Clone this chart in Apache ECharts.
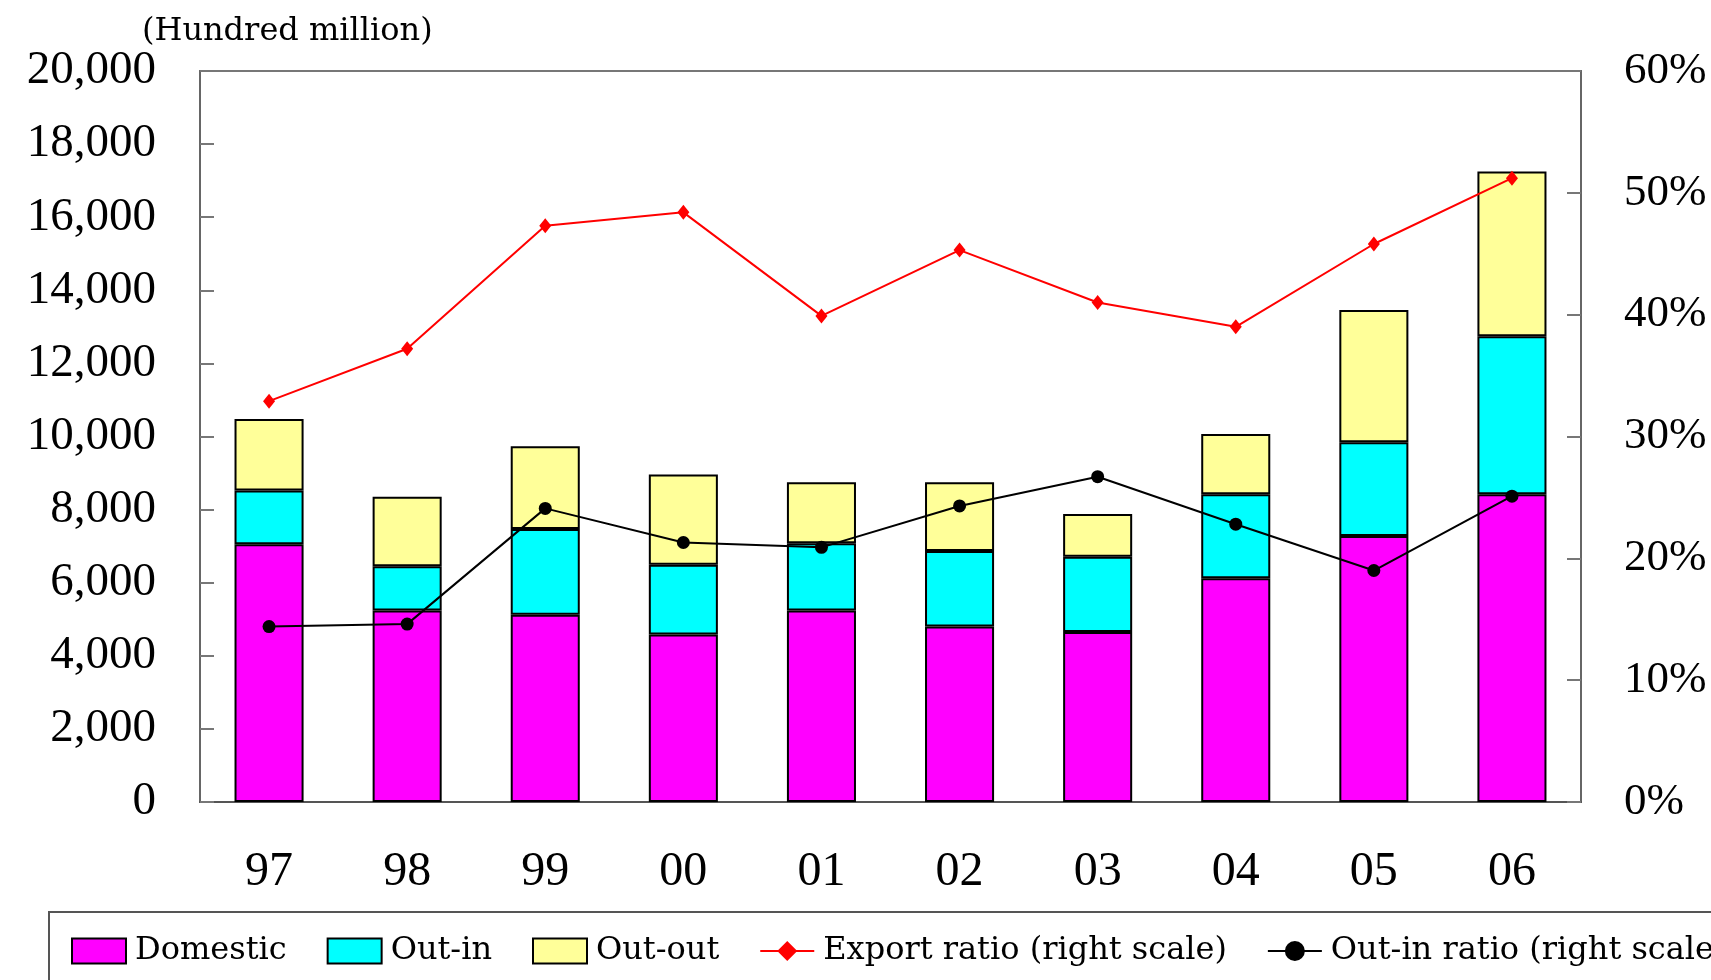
<!DOCTYPE html>
<html>
<head>
	<meta charset="utf-8"/>
	<title>Domestic / Out-in / Out-out</title>
	<style>
		* { margin: 0; padding: 0; }
		body { background: #fff; }
		#myChart { width: 1711px; height: 980px; }
	</style>
</head>
<body>
	<div id="myChart"></div>
	<script src="https://cdn.jsdelivr.net/npm/echarts@6/dist/echarts.min.js"></script>
	<script>
		// data
		var years = ['97', '98', '99', '00', '01', '02', '03', '04', '05', '06'];
		var domestic = [7050, 5240, 5120, 4580, 5240, 4800, 4650, 6120, 7280, 8420];
		var outIn = [1470, 1210, 2350, 1910, 1840, 2070, 2060, 2300, 2560, 4320];
		var outOut = [1960, 1900, 2260, 2470, 1670, 1880, 1170, 1650, 3620, 4510];
		var exportRatio = [32.9, 37.2, 47.3, 48.4, 39.9, 45.3, 41.0, 39.0, 45.8, 51.2];
		var outInRatio = [14.4, 14.6, 24.1, 21.3, 20.9, 24.3, 26.7, 22.8, 19.0, 25.1];

		var font = 'Liberation Serif';
		var wideFont = 'DejaVu Serif';
		var myChart = echarts.init(document.getElementById('myChart'));

		function barSeries(name, data, color) {
			return {
				name: name,
				type: 'bar',
				stack: 'total',
				barWidth: '50%',
				data: data,
				itemStyle: { color: color, borderColor: '#000', borderWidth: 2 },
				z: 2
			};
		}

		var option = {
			animation: false,
			backgroundColor: '#fff',
			textStyle: { fontFamily: font, color: '#000' },
			title: {
				text: '(Hundred million)',
				left: 137,
				top: 11,
				textStyle: { fontFamily: wideFont, fontSize: 32, fontWeight: 'normal', color: '#000' }
			},
			grid: {
				left: 200,
				right: 130,
				top: 71,
				bottom: 178,
				show: true,
				borderColor: '#777',
				borderWidth: 2
			},
			legend: {
				left: 66,
				top: 930,
				width: 3000,
				itemWidth: 54,
				itemHeight: 25,
				itemGap: 40,
				data: [
					{ name: 'Domestic', icon: 'rect' },
					{ name: 'Out-in', icon: 'rect' },
					{ name: 'Out-out', icon: 'rect' },
					'Export ratio (right scale)',
					'Out-in ratio (right scale)'
				],
				textStyle: { fontFamily: wideFont, fontSize: 32, color: '#000', padding: [0, 0, 0, 4] }
			},
			graphic: [{
				type: 'rect',
				shape: { x: 49, y: 912, width: 1800, height: 200 },
				style: { fill: 'none', stroke: '#555', lineWidth: 2 },
				silent: true
			}],
			xAxis: {
				type: 'category',
				data: years,
				axisLine: { lineStyle: { color: '#555', width: 2 } },
				axisTick: { inside: true, length: 15, lineStyle: { color: '#000', width: 1 } },
				axisLabel: { fontFamily: font, fontSize: 48, color: '#000', margin: 46 }
			},
			yAxis: [
				{
					type: 'value',
					min: 0,
					max: 20000,
					interval: 2000,
					splitLine: { show: false },
					axisLine: { show: true, lineStyle: { color: '#666', width: 2 } },
					axisTick: { show: true, inside: true, length: 14, lineStyle: { color: '#777', width: 2 } },
					axisLabel: {
						fontFamily: font, fontSize: 47, color: '#000', margin: 44,
						formatter: function (v) { return v.toLocaleString('en-US'); }
					}
				},
				{
					type: 'value',
					min: 0,
					max: 60,
					interval: 10,
					splitLine: { show: false },
					axisLine: { show: true, lineStyle: { color: '#666', width: 2 } },
					axisTick: { show: true, inside: true, length: 14, lineStyle: { color: '#777', width: 2 } },
					axisLabel: { fontFamily: font, fontSize: 45, color: '#000', margin: 43, formatter: '{value}%' }
				}
			],
			series: [
				barSeries('Domestic', domestic, '#ff00ff'),
				barSeries('Out-in', outIn, '#00ffff'),
				barSeries('Out-out', outOut, '#ffff99'),
				{
					name: 'Export ratio (right scale)',
					type: 'line',
					yAxisIndex: 1,
					data: exportRatio,
					symbol: 'diamond',
					symbolSize: [12, 15],
					lineStyle: { color: '#ff0000', width: 2 },
					itemStyle: { color: '#ff0000' },
					z: 5
				},
				{
					name: 'Out-in ratio (right scale)',
					type: 'line',
					yAxisIndex: 1,
					data: outInRatio,
					symbol: 'circle',
					symbolSize: 13,
					lineStyle: { color: '#000', width: 2 },
					itemStyle: { color: '#000' },
					z: 5
				}
			]
		};

		myChart.setOption(option);
	</script>
</body>
</html>
